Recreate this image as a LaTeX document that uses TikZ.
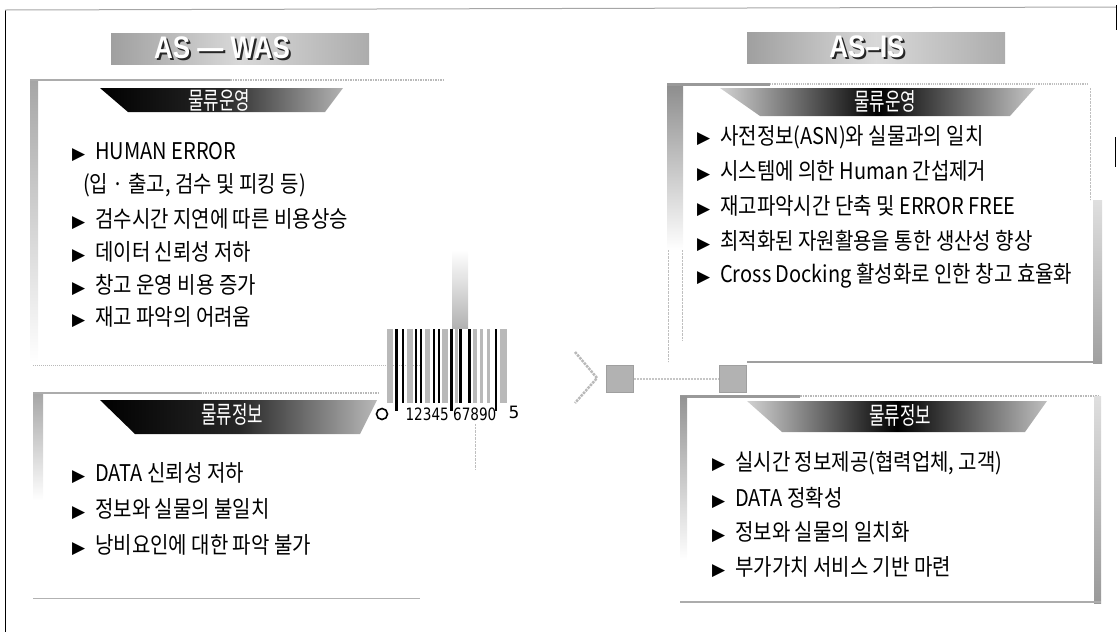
\documentclass[tikz,border=0pt]{standalone}
\usepackage{fontspec}
\usepackage{graphicx}
\newfontfamily\kr{Noto Sans CJK KR}
\newfontfamily\dv{DejaVu Sans}
\newfontfamily\hd{Liberation Sans}
\newcommand\bul{\makebox[23pt][l]{\raisebox{0.5pt}{\dv\fontsize{17}{17}\selectfont ▶}}}
\newcommand\itx[1]{\scalebox{1}[1.15]{#1}}
\tikzset{
 itm/.style={anchor=west, inner sep=0, font=\kr\fontsize{20}{22}\selectfont},
 hdt/.style={inner sep=0, text=white, font=\kr\fontsize{21}{21}\selectfont},
 ast/.style={inner sep=0, font=\hd\bfseries\fontsize{26}{26}\selectfont},
 asbox/.style={inner sep=0, minimum width=258, minimum height=31, left color=gray!75, right color=gray!65, middle color=gray!30},
 sq/.style={minimum size=27, inner sep=0, fill=gray!60, draw=gray!75, line width=1},
 digit/.style={inner sep=0, font=\dv\fontsize{17}{17}\selectfont},
 bbar/.style={fill=black},
 gbar/.style={fill=gray!55},
}
\begin{document}
\begin{tikzpicture}[x=1pt,y=-1pt]
\useasboundingbox (0,0) rectangle (1118,638);
% outer frame
\draw[black, line width=0.9] (5,10) -- (5,632);
\draw[gray!70, line width=1] (5,10) -- (1116,7);
\draw[black, line width=0.9] (1116,5) -- (1116,30);
\draw[black, line width=0.9] (1115,137) -- (1115,167);

% ===== headers AS-WAS / AS-IS
\node[asbox] (wasbox) at (240,48.5) {};
\node[ast, text=black!85] (wass) at (224,50) {\scalebox{1}[1.2]{AS — WAS}};
\node[ast, text=white] (wast) at (222,48) {\scalebox{1}[1.2]{AS — WAS}};
\node[asbox] (isbox) at (876,47.5) {};
\node[ast, text=black!85] (iss) at (869,49) {\scalebox{1}[1.2]{AS–IS}};
\node[ast, text=white] (ist) at (867,47) {\scalebox{1}[1.2]{AS–IS}};

% ===== left top box
\fill[top color=gray!70, bottom color=white] (30,80) rectangle (38,362);
\draw[gray!65, line width=2.5] (30,80) -- (230,80);
\draw[gray!55, densely dotted, line width=1.5] (230,80) -- (445,80);
\draw[gray!55, densely dotted, line width=1] (33,365) -- (420,365);
\path[left color=black, right color=gray!60, middle color=black!85] (100,88) -- (343,88) -- (325,112) -- (128,112) -- cycle;
\node[hdt] (h1) at (219,100) {\scalebox{0.8}[1.15]{물류운영}};
\node[itm] (l1) at (72,152) {\bul\itx{HUMAN ERROR}};
\node[itm] (l1b) at (83,185) {\itx{(입 · 출고, 검수 및 피킹 등)}};
\node[itm] (l2) at (72,219) {\bul\itx{검수시간 지연에 따른 비용상승}};
\node[itm] (l3) at (72,252) {\bul\itx{데이터 신뢰성 저하}};
\node[itm] (l4) at (72,285) {\bul\itx{창고 운영 비용 증가}};
\node[itm] (l5) at (72,317) {\bul\itx{재고 파악의 어려움}};

% ===== left bottom box
\fill[top color=gray!70, bottom color=white] (33,393) rectangle (43,500);
\draw[gray!65, line width=2.5] (33,393) -- (200,393);
\draw[gray!55, densely dotted, line width=1.5] (200,393) -- (380,393);
\draw[gray!60, line width=1] (33,598) -- (420,598);
\path[left color=black, right color=gray!55, middle color=black!85] (100,400) -- (377,400) -- (360,434) -- (135,434) -- cycle;
\node[hdt] (h2) at (232,414) {\scalebox{0.8}[1.15]{물류정보}};
\node[itm] (m1) at (72,473) {\bul\itx{DATA 신뢰성 저하}};
\node[itm] (m2) at (72,509) {\bul\itx{정보와 실물의 불일치}};
\node[itm] (m3) at (72,545) {\bul\itx{낭비요인에 대한 파악 불가}};

% ===== barcode
\fill[top color=white, bottom color=gray!60] (452,250) rectangle (468,328);
\foreach \a/\b in {387/393,407/413,425/430,442/448,455/458,473/477,480/483,487/490,500/507}
  \fill[gbar] (\a,329) rectangle (\b,403);
\foreach \a/\b in {402/404,415/417,420/422,433/435,438/440,459/462,468/471}
  \fill[bbar] (\a,329) rectangle (\b,403);
\foreach \a/\b in {395/398,450/453,495/497}
  \fill[bbar] (\a,329) rectangle (\b,411);
\node[circle, draw, line width=1.6, minimum size=11, inner sep=0] (bc0) at (382,414) {};
\node[digit] (bcd) at (451,414) {\scalebox{0.8}[1]{12345 67890}};
\node[digit] (bc5) at (514,412) {5};
\draw[gray!50, densely dotted] (475,424) -- (475,470);

% ===== middle connector
\draw[gray!55, densely dotted, line width=2.5] (575,352) -- (597,378) -- (575,403);
\node[sq] (sqa) at (620,379) {};
\node[sq] (sqb) at (733,379) {};
\draw[gray!45, densely dotted, line width=2] (sqa) -- (sqb);

% ===== right top box
\fill[top color=gray!90, bottom color=white] (667,83) rectangle (683,250);
\draw[gray!50, densely dotted] (668,250) -- (668,362);
\draw[gray!50, densely dotted] (682,250) -- (682,340);
\draw[gray!80, line width=3] (667,84) -- (770,84);
\draw[gray!50, densely dotted, line width=1.2] (770,84) -- (1088,84);
\draw[gray!50, densely dotted] (1090,88) -- (1090,200);
\fill[top color=gray!25, bottom color=gray!75] (1093,200) rectangle (1102,363);
\draw[gray!75, line width=2] (747,362) -- (1102,362);
\path[left color=gray!35, right color=gray!45, middle color=black] (720,88) -- (1035,88) -- (1010,116) -- (760,116) -- cycle;
\node[hdt] (h3) at (885,101) {\scalebox{0.8}[1.15]{물류운영}};
\node[itm] (r1) at (697,137) {\bul\itx{사전정보(ASN)와 실물과의 일치}};
\node[itm] (r2) at (697,171) {\bul\itx{시스템에 의한 Human 간섭제거}};
\node[itm] (r3) at (697,206) {\bul\itx{재고파악시간 단축 및 ERROR FREE}};
\node[itm] (r4) at (697,241) {\bul\itx{최적화된 자원활용을 통한 생산성 향상}};
\node[itm] (r5) at (697,276) {\bul\itx{Cross Docking 활성화로 인한 창고 효율화}};

% ===== right bottom box
\draw[gray!80, line width=3] (680,396) -- (800,396);
\draw[gray!55, densely dotted, line width=1.5] (800,396) -- (1100,396);
\fill[top color=gray!85, bottom color=white] (680,396) rectangle (687,560);
\fill[top color=gray!25, bottom color=gray!80] (1094,396) rectangle (1101,603);
\draw[gray!65, line width=1.5] (680,602) -- (1101,602);
\path[left color=gray!35, right color=gray!50, middle color=black] (747,401) -- (1047,401) -- (1025,432) -- (782,432) -- cycle;
\node[hdt] (h4) at (900,415) {\scalebox{0.8}[1.15]{물류정보}};
\node[itm] (s1) at (712,463) {\bul\itx{실시간 정보제공(협력업체, 고객)}};
\node[itm] (s2) at (712,498) {\bul\itx{DATA 정확성}};
\node[itm] (s3) at (712,532) {\bul\itx{정보와 실물의 일치화}};
\node[itm] (s4) at (712,567) {\bul\itx{부가가치 서비스 기반 마련}};
\end{tikzpicture}
\end{document}
